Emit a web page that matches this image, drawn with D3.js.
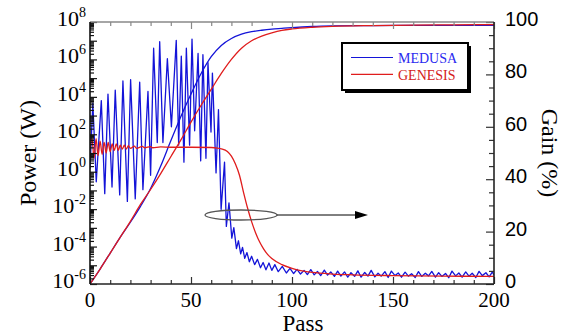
<!DOCTYPE html>
<html>
<head>
<meta charset="utf-8">
<script src="https://cdn.jsdelivr.net/npm/d3@7"></script>
<style>
  body { margin: 0; background: #fff; }
  svg { display: block; }
</style>
</head>
<body>
<div id="chart"></div>
<script>
// power curves: log10 of power in W
const powerPass = [0, 5, 10, 15, 20, 25, 30, 35, 40, 45, 50, 55, 60, 65, 70, 75, 80, 85, 90, 95, 100, 110, 120, 140, 160, 180, 200];
const medusaPowerLog = [-6, -5.2, -4.35, -3.5, -2.7, -1.85, -0.9, 0.3, 1.65, 2.95, 4.15, 5.25, 6.15, 6.75, 7.12, 7.35, 7.48, 7.56, 7.62, 7.66, 7.7, 7.76, 7.79, 7.81, 7.82, 7.82, 7.82];
const genesisPowerLog = [-6, -5.2, -4.35, -3.5, -2.65, -1.75, -0.95, -0.1, 0.8, 1.7, 2.65, 3.55, 4.4, 5.25, 6.0, 6.6, 7.0, 7.25, 7.42, 7.55, 7.63, 7.72, 7.77, 7.81, 7.83, 7.85, 7.86];

// gain curves (%), right axis
const medusaGainPass = [0, 1.4, 3.1, 5.6, 7.3, 8.9, 10.9, 12.5, 14.7, 16.3, 18.5, 20.1, 22.4, 24.6, 26.2, 28.7, 30, 31.5, 33.3, 34.5, 36.1, 38.3, 40.3, 42.7, 43.9, 45.2, 46.5, 47.7, 49.3, 50.5, 51.8, 53.5, 54.8, 55.9, 57.4, 58.4, 59.9, 60.6, 62.4, 63.6, 64.9, 66.6, 67.5, 68.8, 70.2, 71.2, 72.5, 73.5, 74.6, 75.5, 76.6, 77.7, 78.9, 80, 81.5, 82.9, 84.4, 85.7, 87.1, 88.6, 90, 91.5, 93.2, 95.2, 97.2, 99, 100.8, 102.5, 104.2, 106, 107.6, 109.3, 111, 112.6, 114.2, 116, 117.6, 119.2, 121, 122.6, 124.2, 126, 127.6, 129.2, 131, 132.6, 134.2, 136, 137.6, 139.2, 141, 142.6, 144.2, 146, 147.6, 149.2, 151, 152.6, 154.2, 156, 157.6, 159.2, 161, 162.6, 164.2, 166, 167.6, 169.2, 171, 172.6, 174.2, 176, 177.6, 179.2, 181, 182.6, 184.2, 186, 187.6, 189.2, 191, 192.6, 194.2, 196, 197.6, 199.2, 200];
const medusaGain = [44, 69, 39, 70, 34.5, 72.5, 37, 74, 34, 77.5, 31.5, 78, 32.5, 77, 36, 73.5, 41.5, 90, 54, 92.5, 54, 86, 60, 93, 53, 87, 46.5, 90, 53, 93.5, 58.5, 88, 47, 87.5, 48, 84.5, 58, 80.5, 42.4, 66.5, 28.5, 46.5, 22, 31, 17.5, 21.5, 13.5, 16.5, 11.5, 14, 9.8, 12, 8.5, 10.6, 7.4, 9.4, 6.2, 8.2, 5.4, 8.0, 5.2, 7.4, 4.7, 6.7, 4.2, 6.0, 4.0, 5.6, 3.8, 5.2, 3.6, 5.5, 3.5, 4.8, 3.2, 5.3, 3.4, 4.6, 2.9, 4.9, 3.0, 4.6, 2.6, 4.3, 2.9, 5.0, 2.6, 4.4, 3.0, 5.2, 2.7, 4.1, 3.0, 4.7, 2.5, 4.9, 3.2, 4.2, 2.6, 4.5, 3.0, 3.9, 2.5, 4.7, 2.9, 4.1, 3.1, 4.8, 2.6, 4.3, 2.9, 4.0, 2.4, 4.9, 3.1, 4.2, 2.6, 4.6, 3.0, 4.1, 2.5, 4.8, 3.2, 4.3, 2.7, 4.6, 3.4];

const genesisGainPass = [0, 1, 2, 3, 4, 5, 6, 7, 8, 9, 10, 11, 12, 13, 14, 15, 16, 17, 18, 19, 20, 22, 23, 26, 27, 30, 31, 35, 40, 50, 60, 63, 65, 68, 70, 72, 74, 76, 78, 80, 82, 84, 86, 88, 90, 95, 100, 105, 110, 120, 130, 150, 175, 200];
const genesisGain = [52, 55.5, 48, 55.5, 49, 54.5, 49.5, 54, 50, 54, 50.5, 53.5, 51, 53.5, 51, 53, 51.5, 53, 51.5, 52.8, 51.8, 52.6, 51.8, 52.5, 52, 52.4, 52, 52.3, 52.2, 52.2, 52.1, 51.9, 51.6, 50.6, 48.8, 45.8, 41.5, 35, 29, 23.8, 19.5, 16, 13.3, 11.2, 9.7, 7.4, 6.0, 5.0, 4.4, 3.8, 3.5, 3.2, 3.0, 2.9];

const passTicks = [0, 50, 100, 150, 200];
const powerLabelExp = [-6, -4, -2, 0, 2, 4, 6, 8];
const gainTicks = [0, 20, 40, 60, 80, 100];
const seriesNames = ["MEDUSA", "GENESIS"];

const width = 572, height = 335;
const margin = { top: 22, right: 78, bottom: 51, left: 90 };
const innerRight = width - margin.right;
const innerBottom = height - margin.bottom;

const blue = "#1414d8", red = "#e01c1c";
const serif = "'Liberation Serif', 'Times New Roman', serif";
const sans = "'Liberation Sans', Arial, sans-serif";

const svg = d3.select("#chart").append("svg")
  .attr("width", width)
  .attr("height", height);

svg.append("rect").attr("width", width).attr("height", height).attr("fill", "#fff");

const x = d3.scaleLinear().domain([0, 200]).range([margin.left, innerRight]);
const yPow = d3.scaleLog().domain([1e-6, 1e8]).range([innerBottom, margin.top]);
const yGain = d3.scaleLinear().domain([0, 100]).range([innerBottom, margin.top]);

svg.append("clipPath").attr("id", "plot-clip")
  .append("rect")
  .attr("x", margin.left).attr("y", margin.top)
  .attr("width", innerRight - margin.left).attr("height", innerBottom - margin.top);

const plot = svg.append("g").attr("clip-path", "url(#plot-clip)");

const powerLine = (vals) => d3.line()
  .x((d, i) => x(powerPass[i]))
  .y(d => yPow(10 ** d))
  .curve(d3.curveMonotoneX)(vals);

const gainLine = (passes, curve) => d3.line()
  .x((d, i) => x(passes[i]))
  .y(d => yGain(d))
  .curve(curve);

// blue first, red over it
plot.append("path")
  .attr("d", powerLine(medusaPowerLog))
  .attr("fill", "none").attr("stroke", blue).attr("stroke-width", 1.3);

plot.append("path")
  .attr("d", gainLine(medusaGainPass, d3.curveLinear)(medusaGain))
  .attr("fill", "none").attr("stroke", blue).attr("stroke-width", 1.3)
  .attr("stroke-linejoin", "round");

plot.append("path")
  .attr("d", powerLine(genesisPowerLog))
  .attr("fill", "none").attr("stroke", red).attr("stroke-width", 1.3);

plot.append("path")
  .attr("d", gainLine(genesisGainPass, d3.curveMonotoneX)(genesisGain))
  .attr("fill", "none").attr("stroke", red).attr("stroke-width", 1.3);

// ticks
function drawAxis(axis, transform, color) {
  const g = svg.append("g").attr("transform", transform).call(axis);
  g.select(".domain").remove();
  g.selectAll("line").attr("stroke", color).attr("stroke-width", 1.2);
  g.selectAll("text").remove();
  return g;
}

const passMinor = d3.range(0, 201, 10).filter(v => v % 50 !== 0);
drawAxis(d3.axisBottom(x).tickValues(passTicks).tickSize(-7), `translate(0,${innerBottom})`, "#333");
drawAxis(d3.axisBottom(x).tickValues(passMinor).tickSize(-4), `translate(0,${innerBottom})`, "#333");
drawAxis(d3.axisTop(x).tickValues(passTicks).tickSize(-7), `translate(0,${margin.top})`, "#888");
drawAxis(d3.axisTop(x).tickValues(passMinor).tickSize(-4), `translate(0,${margin.top})`, "#888");

const decades = d3.range(-6, 9).map(e => 10 ** e);
const logMinor = [];
d3.range(-6, 8).forEach(e => { for (let m = 2; m <= 9; m++) logMinor.push(m * 10 ** e); });
drawAxis(d3.axisLeft(yPow).tickValues(decades).tickSize(-7), `translate(${margin.left},0)`, "#111");
drawAxis(d3.axisLeft(yPow).tickValues(logMinor).tickSize(-4), `translate(${margin.left},0)`, "#111");

const gainMinor = d3.range(0, 101, 5).filter(v => v % 20 !== 0);
drawAxis(d3.axisRight(yGain).tickValues(gainTicks).tickSize(-8), `translate(${innerRight},0)`, "#333");
drawAxis(d3.axisRight(yGain).tickValues(gainMinor).tickSize(-5), `translate(${innerRight},0)`, "#333");

// frame
svg.append("line").attr("x1", margin.left).attr("x2", innerRight).attr("y1", margin.top).attr("y2", margin.top)
  .attr("stroke", "#888").attr("stroke-width", 1.6);
svg.append("line").attr("x1", margin.left).attr("x2", innerRight).attr("y1", innerBottom).attr("y2", innerBottom)
  .attr("stroke", "#222").attr("stroke-width", 1.6);
svg.append("line").attr("x1", margin.left).attr("x2", margin.left).attr("y1", margin.top).attr("y2", innerBottom)
  .attr("stroke", "#111").attr("stroke-width", 1.6);
svg.append("line").attr("x1", innerRight).attr("x2", innerRight).attr("y1", margin.top).attr("y2", innerBottom)
  .attr("stroke", "#222").attr("stroke-width", 1.6);

// tick labels
svg.append("g").selectAll("text").data(passTicks).join("text")
  .attr("x", d => x(d)).attr("y", innerBottom + 23)
  .attr("text-anchor", "middle")
  .style("font-family", serif).style("font-size", "21px")
  .text(d => d);

const powLabels = svg.append("g").selectAll("text").data(powerLabelExp).join("text")
  .attr("x", margin.left - 4).attr("y", d => yPow(10 ** d) + 4)
  .attr("text-anchor", "end")
  .style("font-family", serif);
powLabels.append("tspan").style("font-size", "22px").text("10");
powLabels.append("tspan").style("font-size", "14px").attr("dy", -9).text(d => d < 0 ? "-" + (-d) : d);

svg.append("g").selectAll("text").data(gainTicks).join("text")
  .attr("x", innerRight + 11).attr("y", d => yGain(d) + 4)
  .style("font-family", sans).style("font-size", "20px")
  .text(d => d);

// axis titles
svg.append("text")
  .attr("x", 303).attr("y", 331)
  .attr("text-anchor", "middle")
  .style("font-family", serif).style("font-size", "23px")
  .text("Pass");

svg.append("text")
  .attr("transform", `translate(36,${(margin.top + innerBottom) / 2}) rotate(-90)`)
  .attr("text-anchor", "middle")
  .style("font-family", serif).style("font-size", "24px")
  .text("Power (W)");

svg.append("text")
  .attr("transform", `translate(542,${(margin.top + innerBottom) / 2}) rotate(90)`)
  .attr("text-anchor", "middle")
  .style("font-family", serif).style("font-size", "24px")
  .text("Gain (%)");

// legend with drop shadow
const legend = svg.append("g").attr("transform", "translate(342,43)");
legend.append("rect").attr("x", 3).attr("y", 3).attr("width", 126).attr("height", 47).attr("fill", "#000");
legend.append("rect").attr("width", 126).attr("height", 47)
  .attr("fill", "#fff").attr("stroke", "#000").attr("stroke-width", 2);
[blue, red].forEach((c, i) => {
  const ly = 14.5 + i * 16.8;
  legend.append("line").attr("x1", 9).attr("x2", 51).attr("y1", ly).attr("y2", ly)
    .attr("stroke", c).attr("stroke-width", 1.2);
  legend.append("text").attr("x", 56).attr("y", ly + 5.5)
    .style("font-family", serif).style("font-size", "14px")
    .attr("fill", i === 0 ? "#2a2af0" : "#d42020")
    .text(seriesNames[i]);
});

// annotation: ellipse round the gain curves, arrow to the right axis
const ay = 215;
svg.append("ellipse").attr("cx", 241).attr("cy", ay).attr("rx", 36).attr("ry", 5)
  .attr("fill", "none").attr("stroke", "#555").attr("stroke-width", 1.3);
svg.append("line").attr("x1", 277).attr("x2", 357).attr("y1", ay).attr("y2", ay)
  .attr("stroke", "#000").attr("stroke-width", 1);
svg.append("path").attr("d", `M355,${ay - 4}L368,${ay}L355,${ay + 4}Z`).attr("fill", "#000");
</script>
</body>
</html>
